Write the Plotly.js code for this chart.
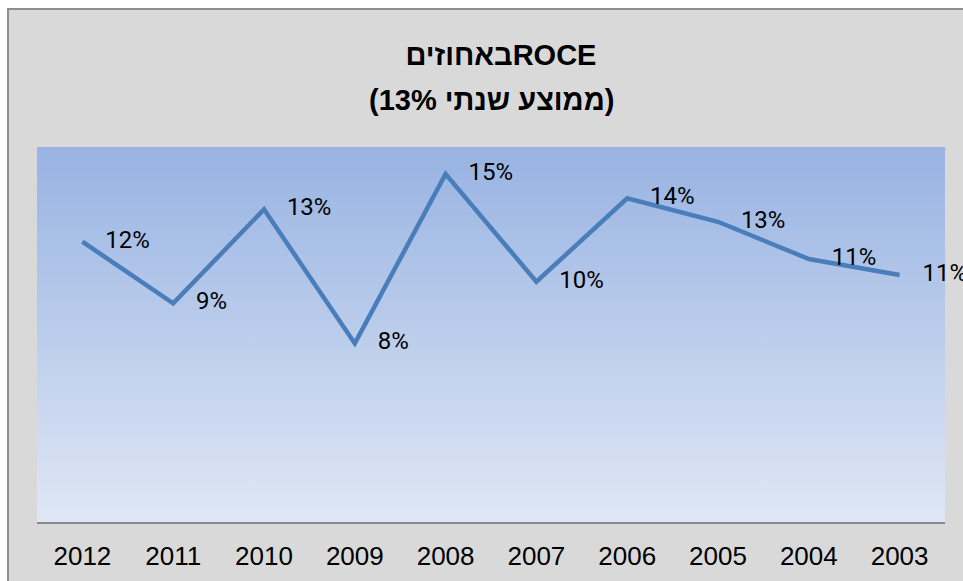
<!DOCTYPE html>
<html>
<head>
<meta charset="utf-8">
<script src="https://cdn.plot.ly/plotly-3.0.1.min.js"></script>
<style>
  html, body { margin: 0; padding: 0; background: #ffffff; width: 963px; height: 581px; overflow: hidden; }
  #frame { position: absolute; left: 7px; top: 8px; width: 956px; height: 573px;
           border-left: 2px solid #8e8e8e; border-top: 2px solid #8e8e8e; background: #d9d9d9; overflow: hidden; }
  #grad { position: absolute; left: 28px; top: 137px; width: 908px; height: 375px;
          background: linear-gradient(to bottom, #98b3e2 0%, #dfe7f5 100%); }
  #chart { position: absolute; left: 0; top: 0; width: 954px; height: 571px; }
</style>
</head>
<body>
<div id="frame">
  <div id="grad"></div>
  <div id="chart"></div>
</div>
<script>
// ---- data ----
const years = ['2012', '2011', '2010', '2009', '2008', '2007', '2006', '2005', '2004', '2003'];
const roce = [0.1196, 0.0933, 0.1334, 0.0762, 0.1485, 0.1025, 0.1381, 0.1281, 0.1122, 0.1054];
const titleLine1 = 'באחוזיםROCE';
const titleLine2 = '(ממוצע שנתי 13%)';

const titleFont = { family: '"Liberation Sans", Arial, sans-serif', size: 29, color: '#000000', weight: 700 };

const trace = {
  x: years,
  y: roce,
  type: 'scatter',
  mode: 'lines+markers+text',
  line: { color: '#4a7ebb', width: 4.5 },
  marker: { size: 35, opacity: 0, color: '#4a7ebb' },
  texttemplate: '%{y:.0%}',
  textposition: 'middle right',
  textfont: { family: 'Roboto, Lato, sans-serif', size: 24, color: '#000000' },
  cliponaxis: false,
  hoverinfo: 'x+y'
};

const layout = {
  width: 954,
  height: 571,
  margin: { l: 28, r: 18, t: 137, b: 59, pad: 0 },
  paper_bgcolor: 'rgba(0,0,0,0)',
  plot_bgcolor: 'rgba(0,0,0,0)',
  showlegend: false,
  title: {
    text: titleLine1,
    font: titleFont,
    xref: 'container', yref: 'container',
    x: 492 / 954, xanchor: 'center',
    y: 1 - 45 / 571, yanchor: 'middle'
  },
  annotations: [{
    text: titleLine2,
    xref: 'paper', yref: 'paper',
    x: 0.5, xanchor: 'center',
    y: (512 - 90) / 375, yanchor: 'middle',
    showarrow: false,
    font: titleFont
  }],
  xaxis: {
    type: 'category',
    categoryorder: 'array',
    categoryarray: years,
    range: [-0.5, 9.5],
    autorange: false,
    showgrid: false,
    zeroline: false,
    showline: true,
    linecolor: '#8a8a8a',
    linewidth: 2,
    ticks: '',
    ticklabelstandoff: 10,
    tickfont: { family: '"Liberation Sans", Arial, sans-serif', size: 26, color: '#000000' },
    fixedrange: true
  },
  yaxis: {
    range: [0, 0.16],
    autorange: false,
    visible: false,
    showgrid: false,
    zeroline: false,
    fixedrange: true
  }
};

Plotly.newPlot('chart', [trace], layout, { displayModeBar: false, staticPlot: true });
</script>
</body>
</html>
